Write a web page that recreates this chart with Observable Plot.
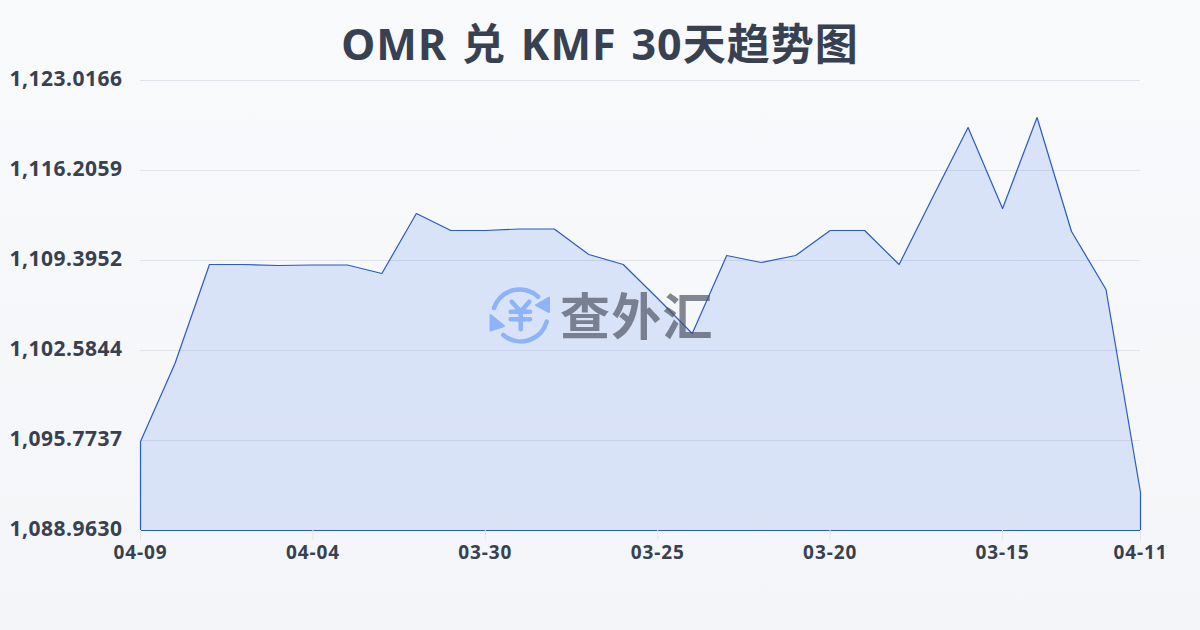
<!DOCTYPE html>
<html>
<head>
<meta charset="utf-8">
<script src="https://cdn.jsdelivr.net/npm/d3@7"></script>
<script src="https://cdn.jsdelivr.net/npm/@observablehq/plot@0.6"></script>
<style>
  html, body { margin: 0; padding: 0; width: 1200px; height: 630px; overflow: hidden; }
  body { background: linear-gradient(180deg, #f9fafc 0%, #f3f5f8 100%); position: relative;
         font-family: "Noto Sans", "Noto Sans CJK SC", sans-serif; }
  #title { position: absolute; left: 0; top: 13px; width: 1200px; text-align: center; font-size: 43px; line-height: 62px;
           font-weight: 700; color: #374151; font-family: "Noto Sans", "Noto Sans CJK SC", sans-serif; letter-spacing: 1px; word-spacing: 2.7px; }
  #mark { position: absolute; left: 488px; top: 284px; width: 230px; height: 62px; }
  #mark span { position: absolute; left: 72px; top: -6px; font: 700 50px/70px "Noto Sans CJK SC", sans-serif; letter-spacing: 1.3px; color: rgba(80,85,100,.7); white-space: nowrap; }
  #chart { position: absolute; left: 0; top: 0; }
  #chart svg { background: transparent; display: block; }
  #chart svg [aria-label="y-axis tick label"] text { letter-spacing: 0.5px; }
  #chart svg [aria-label="x-axis tick label"] text { letter-spacing: 0.9px; }
</style>
</head>
<body>
<div id="title">OMR 兑 KMF 30天趋势图</div>
<div id="chart"></div>
<div id="mark">
  <svg width="64" height="62" viewBox="0 0 64 62" fill="none" stroke="#8db4f8" stroke-width="4.6" stroke-linecap="round" stroke-linejoin="round">
    <path d="M6 24 A27 27 0 0 1 50 12.7"/>
    <path d="M58.7 37.7 A27 27 0 0 1 15.3 51"/>
    <path d="M48 21 L61 13.5 L61 28 Z" fill="#8db4f8" stroke-width="2"/>
    <path d="M2.5 31 L2.5 46.5 L16 42 Z" fill="#8db4f8" stroke-width="2"/>
    <path d="M23.7 17.7 L32.7 27.7 L41.3 17.7 M22.7 27.7 H42 M22.7 35.3 H42 M32.7 27.7 V45.3"/>
  </svg>
  <span>查外汇</span>
</div>
<script>
const dates = ["04-09","04-08","04-07","04-06","04-05","04-04","04-03","04-02","04-01","03-31",
               "03-30","03-29","03-28","03-27","03-26","03-25","03-24","03-23","03-22","03-21",
               "03-20","03-19","03-18","03-17","03-16","03-15","03-14","03-13","03-12","04-11"];
const rates = [1095.698,1101.601,1109.093,1109.093,1109.017,1109.055,1109.055,1108.411,1112.952,1111.666,
               1111.666,1111.779,1111.779,1109.849,1109.093,1106.520,1103.871,1109.774,1109.244,1109.774,
               1111.666,1111.666,1109.093,1114.314,1119.460,1113.330,1120.217,1111.590,1107.201,1091.839];
const yTicks = [1088.9630,1095.7737,1102.5844,1109.3952,1116.2059,1123.0166];
const xTicks = ["04-09","04-04","03-30","03-25","03-20","03-15","04-11"];
const table = dates.map((d, i) => ({date: d, rate: rates[i]}));
const defs = () => {
  const s = d3.create("svg:defs");
  const g = s.append("linearGradient").attr("id", "areaFill").attr("x1", 0).attr("y1", 0).attr("x2", 0).attr("y2", 1);
  g.append("stop").attr("offset", "0%").attr("stop-color", "#2563eb").attr("stop-opacity", 0.15);
  g.append("stop").attr("offset", "100%").attr("stop-color", "#2563eb").attr("stop-opacity", 0.13);
  return s.node();
};
const plot = Plot.plot({
  width: 1200,
  height: 630,
  marginLeft: 140,
  marginRight: 60,
  marginTop: 80,
  marginBottom: 100,
  style: {background: "transparent", overflow: "visible", fontFamily: '"Noto Sans", sans-serif'},
  x: {type: "point", domain: dates, padding: 0, round: false, label: null},
  y: {domain: [yTicks[0], yTicks[5]], label: null},
  marks: [
    defs,
    Plot.gridY(yTicks.slice(1), {stroke: "#dfe3ea", strokeOpacity: 1, strokeWidth: 1}),
    Plot.areaY(table, {x: "date", y1: () => yTicks[0], y2: "rate", fill: "url(#areaFill)", stroke: "#2a5bc0", strokeWidth: 1.2, z: null, dx: 0.5, dy: 0.5}),
    Plot.axisY(yTicks, {anchor: "left", tickSize: 0, tickPadding: 18, dy: -1, tickFormat: d3.format(",.4f"), fontSize: 21, fontWeight: 700, fill: "#374151", label: null}),
    Plot.axisX(xTicks, {anchor: "bottom", tickSize: 10, tickPadding: 5, stroke: "#e3e6eb", fontSize: 19, fontWeight: 700, fill: "#374151", label: null})
  ]
});
document.getElementById("chart").appendChild(plot);
</script>
</body>
</html>
